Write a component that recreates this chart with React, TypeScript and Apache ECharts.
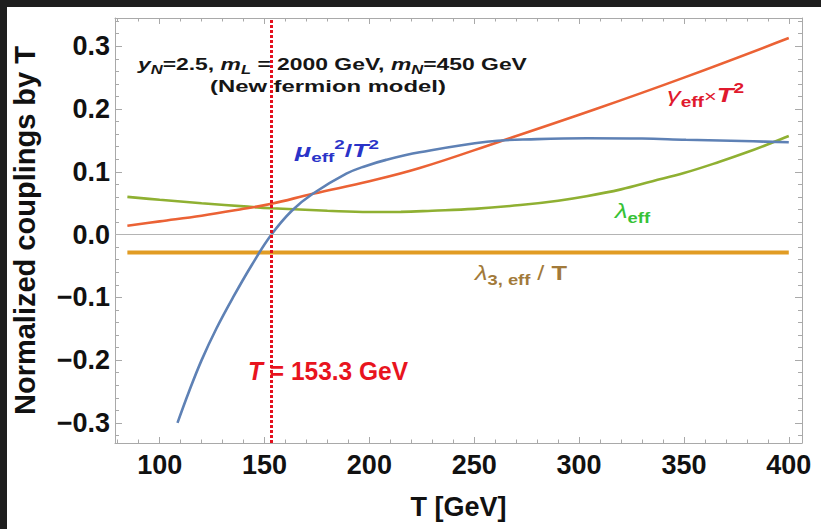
import React, { useEffect, useRef } from "react";
import * as echarts from "echarts";

// ---------- data ----------
const T_MU = [108.5, 114, 120, 127, 135, 144, 153.3, 163, 173, 189, 198, 208, 224, 256, 280, 304, 330, 351, 383, 400];
const MU = [-0.3, -0.25, -0.2, -0.15, -0.1, -0.048, 0.0, 0.038, 0.065, 0.097, 0.109, 0.119, 0.131, 0.148, 0.152, 0.1535, 0.153, 0.151, 0.1486, 0.147];

const T_GAMMA = [84.6, 100, 120, 140, 153.3, 173, 200, 224, 262, 308, 350, 400];
const GAMMA = [0.014, 0.021, 0.03, 0.041, 0.049, 0.065, 0.085, 0.106, 0.148, 0.2, 0.25, 0.313];

const T_LAMBDA = [84.6, 100, 120, 142, 153.3, 180, 200, 215, 230, 250, 272, 290, 303.5, 320, 335, 350, 367, 380, 392.5, 400];
const LAMBDA = [0.06, 0.0555, 0.05, 0.0445, 0.042, 0.038, 0.036, 0.0362, 0.038, 0.041, 0.047, 0.054, 0.061, 0.072, 0.085, 0.098, 0.116, 0.131, 0.147, 0.157];

const T_LAMBDA3 = [84.6, 400];
const LAMBDA3 = [-0.0285, -0.0285];

const T_CRIT = 153.3;

const X_MAJOR = [100, 150, 200, 250, 300, 350, 400];
const X_MINOR = [80, 90, 110, 120, 130, 140, 160, 170, 180, 190, 210, 220, 230, 240, 260, 270, 280, 290, 310, 320, 330, 340, 360, 370, 380, 390];
const Y_MAJOR = [-0.3, -0.2, -0.1, 0, 0.1, 0.2, 0.3];
const Y_MINOR = [-0.32, -0.28, -0.26, -0.24, -0.22, -0.18, -0.16, -0.14, -0.12, -0.08, -0.06, -0.04, -0.02, 0.02, 0.04, 0.06, 0.08, 0.12, 0.14, 0.16, 0.18, 0.22, 0.24, 0.26, 0.28, 0.32, 0.34];

const X_MIN = 78.7;
const X_MAX = 406.3;
const Y_MIN = -0.332;
const Y_MAX = 0.345;

// ---------- styling ----------
const FONT = "'Liberation Sans', Arial, sans-serif";
const FRAME = "#a9a9a9";
const C_MU = "#5e81b5";
const C_GAMMA = "#eb6235";
const C_LAMBDA = "#8fb032";
const C_LAMBDA3 = "#e19c24";
const C_CRIT = "#e4101e";

type Piece = { t: string; s?: number; dy?: number; it?: boolean; w?: string; c?: string };

function buildLabel(
  ctx: CanvasRenderingContext2D,
  pieces: Piece[],
  left: number,
  baseline: number,
  size: number,
  width: number,
  color: string
) {
  let x = 0;
  const children: any[] = [];
  for (const p of pieces) {
    const fs = size * (p.s ?? 1);
    const weight = p.w ?? "bold";
    const fstyle = p.it ? "italic" : "normal";
    ctx.font = `${fstyle} ${weight} ${fs}px 'Liberation Sans'`;
    const full = ctx.measureText(p.t).width;
    const lead = p.t.length - p.t.replace(/^\s+/, "").length;
    const leadW = lead > 0 ? ctx.measureText(p.t.slice(0, lead)).width : 0;
    const txt = p.t.trim();
    if (txt.length) {
      children.push({
        type: "text",
        x: x + leadW,
        y: baseline + (p.dy ?? 0) * size - 0.3465 * fs,
        style: {
          text: txt,
          fontSize: fs,
          fontFamily: FONT,
          fontWeight: weight,
          fontStyle: fstyle,
          fill: p.c ?? color,
          align: "left",
          verticalAlign: "middle",
        },
      });
    }
    x += full;
  }
  return { type: "group", x: left, y: 0, scaleX: width / x, children, silent: true };
}

const SUB = 0.24;
const SUP = -0.42;

export default function App() {
  const ref = useRef<HTMLDivElement>(null);
  useEffect(() => {
    if (!ref.current) return;
    const chart = echarts.init(ref.current, undefined, { renderer: "svg" });
    const ctx = document.createElement("canvas").getContext("2d")!;

    const labels = [
      buildLabel(ctx, [
        { t: "y", it: true }, { t: "N", it: true, s: 0.72, dy: SUB }, { t: "=2.5, " },
        { t: "m", it: true }, { t: "L", it: true, s: 0.72, dy: SUB }, { t: " = 2000 GeV, " },
        { t: "m", it: true }, { t: "N", it: true, s: 0.72, dy: SUB }, { t: "=450 GeV" },
      ], 138, 70, 16.5, 389, "#161616"),
      buildLabel(ctx, [{ t: "(New fermion model)" }], 210, 92, 16.5, 236, "#161616"),
      buildLabel(ctx, [
        { t: "\u03bc", it: true }, { t: "eff", s: 0.7, dy: SUB }, { t: "2", s: 0.7, dy: SUP },
        { t: "/" }, { t: "T", it: true }, { t: "2", s: 0.7, dy: SUP },
      ], 295, 157, 19, 84, "#2a33c8"),
      buildLabel(ctx, [
        { t: "\u03b3", it: true, w: "normal" }, { t: "eff", s: 0.7, dy: SUB }, { t: "\u00d7", w: "normal", s: 0.8 },
        { t: "T", it: true }, { t: "2", s: 0.7, dy: SUP },
      ], 667, 102, 20, 77, "#e0192d"),
      buildLabel(ctx, [
        { t: "\u03bb", it: true, w: "normal" }, { t: "eff", s: 0.72, dy: SUB },
      ], 615, 218, 21, 35, "#36c236"),
      buildLabel(ctx, [
        { t: "\u03bb", it: true, w: "normal" }, { t: "3, eff", s: 0.72, dy: SUB },
        { t: " / ", w: "normal" }, { t: "T" },
      ], 475, 280, 21, 92, "#a27a3a"),
      buildLabel(ctx, [
        { t: "T", it: true }, { t: " = 153.3 GeV" },
      ], 248, 380, 25.5, 160, "#e8141e"),
    ];

    const fmt = (v: number) => {
      const s = (Math.abs(v) < 1e-9 ? 0 : v).toFixed(1);
      return s.replace("-", "\u2212");
    };

    const labelStyle = { fontSize: 27, fontWeight: "bold", fontFamily: FONT, color: "#111" };

    const pair = (xs: number[], ys: number[]) => xs.map((x, i) => [x, ys[i]]);

    const lineSeries = (name: string, xs: number[], ys: number[], color: string, width: number, extra: any = {}) => ({
      name,
      type: "line",
      xAxisIndex: 0,
      yAxisIndex: 0,
      data: pair(xs, ys),
      showSymbol: false,
      symbol: "none",
      smooth: 0.4,
      lineStyle: { color, width },
      itemStyle: { color },
      emphasis: { disabled: true },
      silent: true,
      ...extra,
    });

    chart.setOption({
      animation: false,
      backgroundColor: "#ffffff",
      grid: [
        { left: 115, right: 19, top: 18, bottom: 86, outerBoundsMode: "none" },
        { left: 115, right: 19, top: 18, bottom: 86, outerBoundsMode: "none" },
      ],
      xAxis: [
        {
          gridIndex: 0, type: "value", position: "bottom", min: X_MIN, max: X_MAX,
          axisLine: { show: true, onZero: false, lineStyle: { color: FRAME, width: 1 } },
          axisTick: { show: true, inside: true, length: 6, customValues: X_MAJOR, lineStyle: { color: FRAME, width: 1 } },
          axisLabel: { show: true, customValues: X_MAJOR, margin: 8, ...labelStyle },
          splitLine: { show: false },
          name: "T [GeV]", nameLocation: "middle", nameGap: 50,
          nameTextStyle: { fontSize: 27, fontWeight: "bold", fontFamily: FONT, color: "#111" },
        },
        {
          gridIndex: 0, type: "value", position: "top", min: X_MIN, max: X_MAX,
          axisLine: { show: true, onZero: false, lineStyle: { color: FRAME, width: 1 } },
          axisTick: { show: true, inside: true, length: 6, customValues: X_MAJOR, lineStyle: { color: FRAME, width: 1 } },
          axisLabel: { show: false }, splitLine: { show: false },
        },
        {
          gridIndex: 1, type: "value", position: "bottom", min: X_MIN, max: X_MAX,
          axisLine: { show: false, onZero: false },
          axisTick: { show: true, inside: true, length: 3.5, customValues: X_MINOR, lineStyle: { color: FRAME, width: 1 } },
          axisLabel: { show: false }, splitLine: { show: false },
        },
        {
          gridIndex: 1, type: "value", position: "top", min: X_MIN, max: X_MAX,
          axisLine: { show: false, onZero: false },
          axisTick: { show: true, inside: true, length: 3.5, customValues: X_MINOR, lineStyle: { color: FRAME, width: 1 } },
          axisLabel: { show: false }, splitLine: { show: false },
        },
      ],
      yAxis: [
        {
          gridIndex: 0, type: "value", position: "left", min: Y_MIN, max: Y_MAX,
          axisLine: { show: true, onZero: false, lineStyle: { color: FRAME, width: 1 } },
          axisTick: { show: true, inside: true, length: 7, customValues: Y_MAJOR, lineStyle: { color: FRAME, width: 1 } },
          axisLabel: { show: true, customValues: Y_MAJOR, margin: 5, formatter: fmt, ...labelStyle },
          splitLine: { show: false },
          name: "Normalized couplings by T", nameLocation: "middle", nameGap: 76,
          nameTextStyle: { fontSize: 29, fontWeight: "bold", fontFamily: FONT, color: "#111" },
        },
        {
          gridIndex: 0, type: "value", position: "right", min: Y_MIN, max: Y_MAX,
          axisLine: { show: true, onZero: false, lineStyle: { color: FRAME, width: 1 } },
          axisTick: { show: true, inside: true, length: 7, customValues: Y_MAJOR, lineStyle: { color: FRAME, width: 1 } },
          axisLabel: { show: false }, splitLine: { show: false },
        },
        {
          gridIndex: 1, type: "value", position: "left", min: Y_MIN, max: Y_MAX,
          axisLine: { show: false, onZero: false },
          axisTick: { show: true, inside: true, length: 4, customValues: Y_MINOR, lineStyle: { color: FRAME, width: 1 } },
          axisLabel: { show: false }, splitLine: { show: false },
        },
        {
          gridIndex: 1, type: "value", position: "right", min: Y_MIN, max: Y_MAX,
          axisLine: { show: false, onZero: false },
          axisTick: { show: true, inside: true, length: 4, customValues: Y_MINOR, lineStyle: { color: FRAME, width: 1 } },
          axisLabel: { show: false }, splitLine: { show: false },
        },
      ],
      series: [
        lineSeries("lambda3", T_LAMBDA3, LAMBDA3, C_LAMBDA3, 4, {
          smooth: false,
          markLine: {
            silent: true, symbol: ["none", "none"], label: { show: false },
            lineStyle: { color: "#b4b4b4", width: 1, type: "solid" },
            emphasis: { disabled: true },
            data: [{ yAxis: 0 }],
          },
        }),
        lineSeries("lambda", T_LAMBDA, LAMBDA, C_LAMBDA, 2.6),
        lineSeries("gamma", T_GAMMA, GAMMA, C_GAMMA, 2.6),
        lineSeries("mu", T_MU, MU, C_MU, 2.6, {
          markLine: {
            silent: true, symbol: ["none", "none"], label: { show: false },
            lineStyle: { color: C_CRIT, width: 3, type: [3, 2] },
            emphasis: { disabled: true },
            data: [{ xAxis: T_CRIT }],
          },
        }),
      ],
      graphic: [
        { type: "rect", shape: { x: 0, y: 0, width: 821, height: 7 }, style: { fill: "#1e1e1e" }, silent: true },
        { type: "rect", shape: { x: 0, y: 0, width: 7, height: 529 }, style: { fill: "#1e1e1e" }, silent: true },
        ...labels,
      ],
    });
    return () => chart.dispose();
  }, []);
  return (
    <div
      ref={ref}
      style={{ position: "fixed", left: 0, top: 0, width: 821, height: 529, background: "#fff" }}
    />
  );
}
